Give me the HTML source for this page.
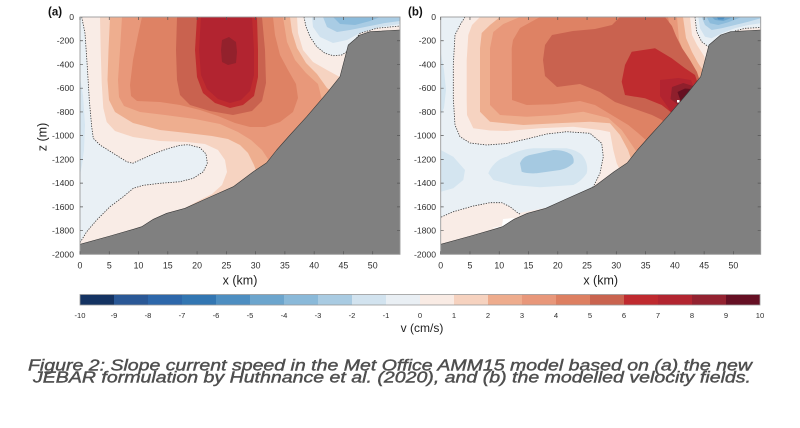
<!DOCTYPE html>
<html><head><meta charset="utf-8">
<style>
html,body{margin:0;padding:0;background:#fff;}
svg{display:block;}
text{font-family:"Liberation Sans",Arial,sans-serif;}
</style></head>
<body>
<svg width="800" height="428" viewBox="0 0 800 428" xmlns="http://www.w3.org/2000/svg">
<defs>
<clipPath id="ca"><rect x="80" y="17" width="320" height="237.3"/></clipPath>
<clipPath id="cb"><rect x="440.7" y="17" width="320" height="237.3"/></clipPath>
</defs>
<rect width="800" height="428" fill="#fff"/>

<!-- ============ PANEL A ============ -->
<g clip-path="url(#ca)" stroke-linejoin="round">
<rect x="80" y="17" width="320" height="237.3" fill="#f9ece6"/>
<path fill="#f6d3c1" d="M100,17 L100.7,50 L101.7,83 L103.3,108 L106.7,122 L115,131 L133,137 L160,141 L187,142 L205,144 L218,150 L225,160 L227,172 L222,185 L212,194 L198,201 L187,207 L390,240 L340,77 L338,76 L327,70 L313,62 L303,50 L298,33 L297,17 Z"/>
<path fill="#eeae8f" d="M110,17 L108.5,50 L107.5,80 L109,100 L115,112 L133,123 L160,130 L187,133 L212,136 L228,139 L240,145 L248,153 L254,165 L258,176 L390,240 L331,91 L327,88 L317,74 L306,63 L297,48 L292,32 L290,17 Z"/>
<path fill="#e8987a" d="M122,17 L120,50 L118,80 L119,97 L124,106 L140,112 L165,115 L195,119 L220,124 L238,132 L251,140 L262,150 L270,162 L390,240 L322,100 L318,84 L306,73 L295,60 L287,42 L283,17 Z"/>
<path fill="#de8264" d="M142,17 L138,35 L133,60 L130,85 L131,96 L137,101 L160,102 L180,105 L200,110 L218,116 L235,123 L250,127 L265,127 L280,122 L293,112 L298,98 L296,84 L288,70 L280,55 L275,35 L273,17 Z"/>
<path fill="#c9624f" d="M177,17 L176,50 L177,80 L180,95 L190,105 L210,111 L233,115 L252,111 L262,101 L266,83 L265,50 L262,17 Z"/>
<path fill="#bf2c2f" d="M197,17 L195,50 L197,77 L203,93 L215,103 L230,108 L243,105 L254,96 L258,77 L258,50 L257,17 Z"/>
<path fill="#b22430" d="M201,17 L199,50 L201,75 L207,89 L218,99 L230,103 L241,100 L250,91 L254,75 L254,50 L252,17 Z"/>
<path fill="#93212c" d="M222,40 L229,37 L236,42 L237,52 L236,63 L228,65 L222,62 L221,50 Z"/>

<path fill="#e9f0f5" d="M80,17 L81.7,17 L85,33.3 L87.3,66.7 L89.3,100 L91.7,126.7 L93.3,138.3 L100,145 L113.3,153.3 L126.7,161.7 L132.7,163.3 L140,160 L153.3,154 L166.7,149 L180,145.3 L188.3,144.7 L200,147.7 L206,154 L207.3,163.3 L203.3,171.7 L193.3,178.3 L180,181.7 L160,183.3 L143.3,185.3 L133.3,188.3 L123.3,196.7 L110,206.7 L96.7,220 L86.7,231.7 L80,242.7 Z"/>
<path fill="#d6e6f1" d="M80,78 L83,95 L85,125 L84,150 L82,165 L80,175 Z"/>
<path fill="#e9f0f5" d="M304,17 L306,26.7 L310,36.7 L316.7,46.7 L325,53.3 L333.3,55.7 L341.7,55 L346.7,51.7 L360,33.3 L376.7,28.3 L400,26 L400,17 Z"/>
<path fill="#d0e2ef" d="M312,17 L313,27 L320,37 L333,43 L347,40 L360,33 L380,27 L400,24 L400,17 Z"/>
<path fill="#a9cce4" d="M323,17 L327,27 L337,32 L350,30 L365,27 L385,23 L400,21 L400,17 Z"/>
<path fill="#8bbbdb" d="M333,17 L340,24 L355,25 L370,21 L380,17 Z"/>

<g fill="none" stroke="#333" stroke-width="0.8" stroke-dasharray="1.3,1.3">
<path d="M81.7,17 L85,33.3 L87.3,66.7 L89.3,100 L91.7,126.7 L93.3,138.3 L100,145 L113.3,153.3 L126.7,161.7 L132.7,163.3 L140,160 L153.3,154 L166.7,149 L180,145.3 L188.3,144.7 L200,147.7 L206,154 L207.3,163.3 L203.3,171.7 L193.3,178.3 L180,181.7 L160,183.3 L143.3,185.3 L133.3,188.3 L123.3,196.7 L110,206.7 L96.7,220 L86.7,231.7 L80,242.7"/>
<path d="M304,17 L306,26.7 L310,36.7 L316.7,46.7 L325,53.3 L333.3,55.7 L341.7,55 L346.7,51.7 L360,33.3 L376.7,28.3 L400,26"/>
</g>
<path fill="#808080" stroke="#3a3a3a" stroke-width="0.6" d="M80,244.3 L110,236 L133.3,229.3 L141.7,226.7 L153.3,219.3 L166.7,213.3 L185,208.3 L203.3,200 L233.3,186.7 L253.3,171.7 L266.7,162.7 L276.7,150 L290,135 L306.7,116.7 L326.7,93.3 L340,76.7 L348.3,45 L360,35 L370,31.7 L400,30 L401,30 L401,256 L79,256 Z"/>
</g>

<!-- ============ PANEL B ============ -->
<g clip-path="url(#cb)" stroke-linejoin="round">
<rect x="440.7" y="17" width="320" height="237.3" fill="#f9ece6"/>
<path fill="#f6d3c1" d="M480,17 L690,17 L692,35 L697,45 L704,56 L750,240 L620,170 L616.7,163.3 L613.3,150 L610,132 L600,130 L573.3,126.7 L540,128.3 L506.7,131 L490,130.5 L473.3,128.3 L467,115 L466.7,100 L466.7,60 L468.3,35 L472,25 Z"/>
<path fill="#eeae8f" d="M500,17 L683,17 L686,38 L692,52 L698,63 L704,72 L750,240 L632,162 L628,150 L620,135 L610,123.3 L590,121.7 L556.7,123.3 L523.3,125 L490,121.7 L480,111.7 L480,48.3 L481.7,33 L490,25 Z"/>
<path fill="#e8987a" d="M520,17 L677,17 L679,40 L686,58 L694,70 L700,85 L750,240 L640,157 L632,145 L621.7,130 L608.3,118 L583.3,111.7 L556.7,115 L526.7,116.7 L500,115 L490,105 L490,48.3 L493.3,32 L503.3,24 Z"/>
<path fill="#de8264" d="M540,17 L668,17 L672,37 L680,58 L690,76 L696,82 L750,240 L648,142 L638.3,133.3 L628.3,125 L611.7,115 L595,105 L580,101 L553.3,104.3 L526.7,105 L512,100 L511.7,48.3 L513,40 L520,28 Z"/>
<path fill="#c9624f" d="M545,76 L543,60 L545,45 L552,35 L573,31 L595,29 L612,25 L620,17 L665,17 L672,26 L676,36 L682,48 L690,60 L697,72 L750,240 L662,120 L652,115 L632,108 L615,102 L600,92 L580,84 L557,87 Z"/>
<path fill="#bf2c2f" d="M621.7,81.7 L625,65 L631.7,51.7 L655,48.3 L671.7,58.3 L685,68.3 L695,75 L750,240 L672,113 L661.7,105 L645,98.3 L625,95 Z"/>
<path fill="#b22430" d="M660,80 L678.3,78 L691,80 L750,240 L668.3,108 L660,96 Z"/>
<path fill="#8f1f2c" d="M672,87 L683.3,83 L693,86 L750,240 L678.3,105 L670.5,99 Z"/>
<path fill="#651021" d="M677.5,92 L685,88.5 L691,89 L750,240 L681,102 Z"/>
<rect x="677" y="100" width="2.5" height="2.5" fill="#fff"/>

<path fill="#e9f0f5" d="M440.7,17 L465,17 L460,25 L455,35 L453.3,65 L453.3,98.3 L455,125 L460,136.7 L470,143 L486.7,145 L506.7,143.5 L526.7,139 L546.7,134 L566.7,131.7 L590,133.3 L601.7,143.3 L603.3,156.7 L600,173.3 L593.3,186.7 L586.7,191 L560,205 L518.3,213.3 L510,206.7 L501.7,202.7 L490,202.7 L473.3,206 L453.3,211.7 L440.7,217.3 Z"/>
<path fill="#d4e5f0" d="M488.3,173.3 C492,164 500,158 506.7,156.7 C515,152 524,149 533.3,148.3 L566.7,148.3 C575,150 581,153 583.3,156.7 C587,162 588,168 586.7,173.3 C583,179 578,183 573.3,185 L540,187.3 L513.3,185 L493.3,180 Z"/>
<path fill="#a5c9e1" d="M520,163.3 C522,158 526,156 530,155 L553.3,150 C562,150 568,152 571.7,155 C574,158 574,161 573.3,163.3 C569,167 565,169 560,170 L536.7,173.3 C530,173.5 525,173 521.7,171.7 Z"/>
<path fill="#d4e5f0" d="M440.7,150 L453.3,156.7 L465,170 L463.3,180 L453.3,188.3 L440.7,191.7 Z"/>
<path fill="#d4e5f0" d="M440.7,52 L444,70 L446,90 L444,108 L440.7,115 Z"/>
<path fill="#e9f0f5" d="M695,17 L696.7,31.7 L701.7,41.7 L708.3,46.7 L716,40 L735,31 L745,28.3 L760.7,27.5 L760.7,17 Z"/>
<path fill="#d0e2ef" d="M698.3,17 L700,28.3 L705,36.7 L711.7,38.3 L721.7,33.3 L735,28.3 L748.3,25 L760.7,23.3 L760.7,17 Z"/>
<path fill="#a9cce4" d="M701.7,17 L705,25 L711.7,30 L721.7,28.3 L735,25 L748.3,21.7 L760.7,18.3 L760.7,17 Z"/>
<path fill="#8bbbdb" d="M706.7,17 L710,23.3 L718.3,25 L728.3,22.3 L738.3,18.3 L741.7,17 Z"/>
<path fill="#6ea7cf" d="M711.7,17 L715,20 L723.3,21 L731.7,17.7 L733,17 Z"/>
<path fill="#4d8fc3" d="M716.7,17 L725,17 L723.3,19.5 L718.3,19.5 Z"/>

<g fill="none" stroke="#333" stroke-width="0.8" stroke-dasharray="1.3,1.3">
<path d="M465,17 L460,25 L455,35 L453.3,65 L453.3,98.3 L455,125 L460,136.7 L470,143 L486.7,145 L506.7,143.5 L526.7,139 L546.7,134 L566.7,131.7 L590,133.3 L601.7,143.3 L603.3,156.7 L600,173.3 L593.3,186.7 L586.7,191"/>
<path d="M520,214 L518.3,213.3 L510,206.7 L501.7,202.7 L490,202.7 L473.3,206 L453.3,211.7 L440.7,217.3"/>
<path d="M695,17 L696.7,31.7 L701.7,41.7 L708.3,46.7"/>
<path d="M735,31 L745,28.3 L760.7,27.5"/>
</g>
<path fill="#fff" d="M492,228 L502,226 L503,219 L514,218 L517,221 L510,226 L500,229 Z"/>
<g transform="translate(360.7,0)">
<path fill="#808080" stroke="#3a3a3a" stroke-width="0.6" d="M80,244.3 L110,236 L133.3,229.3 L141.7,226.7 L153.3,219.3 L166.7,213.3 L185,208.3 L203.3,200 L233.3,186.7 L253.3,171.7 L266.7,162.7 L276.7,150 L290,135 L306.7,116.7 L326.7,93.3 L340,76.7 L348.3,45 L360,35 L370,31.7 L400,30 L401,30 L401,256 L79,256 Z"/>
</g>
</g>

<rect x="80" y="17" width="320" height="237.3" fill="none" stroke="#9a9a9a" stroke-width="0.9"/>
<rect x="440.7" y="17" width="320" height="237.3" fill="none" stroke="#9a9a9a" stroke-width="0.9"/>

<g stroke="#555" stroke-width="0.7">
<path d="M80,17v3M109.27,17v3M138.54,17v3M167.81,17v3M197.08,17v3M226.35,17v3M255.62,17v3M284.89,17v3M314.16,17v3M343.43,17v3M372.7,17v3
M80,254.3v-3M109.27,254.3v-3M138.54,254.3v-3M167.81,254.3v-3M197.08,254.3v-3M226.35,254.3v-3M255.62,254.3v-3M284.89,254.3v-3M314.16,254.3v-3M343.43,254.3v-3M372.7,254.3v-3
M80,40.73h3M80,64.46h3M80,88.19h3M80,111.92h3M80,135.65h3M80,159.38h3M80,183.11h3M80,206.84h3M80,230.57h3
M400,40.73h-3M400,64.46h-3M400,88.19h-3M400,111.92h-3M400,135.65h-3M400,159.38h-3M400,183.11h-3M400,206.84h-3M400,230.57h-3"/>
<path transform="translate(360.7,0)" d="M80,17v3M109.27,17v3M138.54,17v3M167.81,17v3M197.08,17v3M226.35,17v3M255.62,17v3M284.89,17v3M314.16,17v3M343.43,17v3M372.7,17v3
M80,254.3v-3M109.27,254.3v-3M138.54,254.3v-3M167.81,254.3v-3M197.08,254.3v-3M226.35,254.3v-3M255.62,254.3v-3M284.89,254.3v-3M314.16,254.3v-3M343.43,254.3v-3M372.7,254.3v-3
M80,40.73h3M80,64.46h3M80,88.19h3M80,111.92h3M80,135.65h3M80,159.38h3M80,183.11h3M80,206.84h3M80,230.57h3
M400,40.73h-3M400,64.46h-3M400,88.19h-3M400,111.92h-3M400,135.65h-3M400,159.38h-3M400,183.11h-3M400,206.84h-3M400,230.57h-3"/>
</g>

<g font-size="8.6" fill="#2e2e2e" text-anchor="end">
<text x="74" y="20">0</text><text x="74" y="43.7">-200</text><text x="74" y="67.5">-400</text><text x="74" y="91.2">-600</text><text x="74" y="114.9">-800</text><text x="74" y="138.6">-1000</text><text x="74" y="162.4">-1200</text><text x="74" y="186.1">-1400</text><text x="74" y="209.8">-1600</text><text x="74" y="233.6">-1800</text><text x="74" y="257.3">-2000</text>
<text x="436" y="20">0</text><text x="436" y="43.7">-200</text><text x="436" y="67.5">-400</text><text x="436" y="91.2">-600</text><text x="436" y="114.9">-800</text><text x="436" y="138.6">-1000</text><text x="436" y="162.4">-1200</text><text x="436" y="186.1">-1400</text><text x="436" y="209.8">-1600</text><text x="436" y="233.6">-1800</text><text x="436" y="257.3">-2000</text>
</g>
<g font-size="8.8" fill="#2e2e2e" text-anchor="middle">
<text x="80" y="268.3">0</text><text x="109.27" y="268.3">5</text><text x="138.54" y="268.3">10</text><text x="167.81" y="268.3">15</text><text x="197.08" y="268.3">20</text><text x="226.35" y="268.3">25</text><text x="255.62" y="268.3">30</text><text x="284.89" y="268.3">35</text><text x="314.16" y="268.3">40</text><text x="343.43" y="268.3">45</text><text x="372.7" y="268.3">50</text>
<text x="440.7" y="268.3">0</text><text x="469.97" y="268.3">5</text><text x="499.24" y="268.3">10</text><text x="528.51" y="268.3">15</text><text x="557.78" y="268.3">20</text><text x="587.05" y="268.3">25</text><text x="616.32" y="268.3">30</text><text x="645.59" y="268.3">35</text><text x="674.86" y="268.3">40</text><text x="704.13" y="268.3">45</text><text x="733.4" y="268.3">50</text>
</g>
<g font-size="12.5" fill="#222" text-anchor="middle">
<text x="240" y="284.5">x (km)</text>
<text x="600.7" y="284.5">x (km)</text>
<text transform="translate(46.5,137) rotate(-90)">z (m)</text>
</g>
<text x="48" y="15.5" font-size="11.5" font-weight="bold" fill="#111">(a)</text>
<text x="408" y="15.5" font-size="11.5" font-weight="bold" fill="#111">(b)</text>

<g>
<rect x="80" y="294.5" width="34" height="10.5" fill="#143362"/>
<rect x="114" y="294.5" width="34" height="10.5" fill="#2a5896"/>
<rect x="148" y="294.5" width="34" height="10.5" fill="#2d67aa"/>
<rect x="182" y="294.5" width="34" height="10.5" fill="#3276b2"/>
<rect x="216" y="294.5" width="34" height="10.5" fill="#4d8ec1"/>
<rect x="250" y="294.5" width="34" height="10.5" fill="#6ca5cd"/>
<rect x="284" y="294.5" width="34" height="10.5" fill="#8ab9d9"/>
<rect x="318" y="294.5" width="34" height="10.5" fill="#a9cbe2"/>
<rect x="352" y="294.5" width="34" height="10.5" fill="#d2e3ef"/>
<rect x="386" y="294.5" width="34" height="10.5" fill="#e9eff4"/>
<rect x="420" y="294.5" width="34" height="10.5" fill="#f9ebe4"/>
<rect x="454" y="294.5" width="34" height="10.5" fill="#f6d2bf"/>
<rect x="488" y="294.5" width="34" height="10.5" fill="#eeac8d"/>
<rect x="522" y="294.5" width="34" height="10.5" fill="#e8977a"/>
<rect x="556" y="294.5" width="34" height="10.5" fill="#dd7f61"/>
<rect x="590" y="294.5" width="34" height="10.5" fill="#c9634f"/>
<rect x="624" y="294.5" width="34" height="10.5" fill="#bf2a2f"/>
<rect x="658" y="294.5" width="34" height="10.5" fill="#b22530"/>
<rect x="692" y="294.5" width="34" height="10.5" fill="#932230"/>
<rect x="726" y="294.5" width="34" height="10.5" fill="#650f23"/>
<rect x="80" y="294.5" width="680" height="10.5" fill="none" stroke="#999" stroke-width="0.8"/>
</g>
<g font-size="7.6" fill="#2e2e2e" text-anchor="middle">
<text x="80" y="317.8">-10</text><text x="114" y="317.8">-9</text><text x="148" y="317.8">-8</text><text x="182" y="317.8">-7</text><text x="216" y="317.8">-6</text><text x="250" y="317.8">-5</text><text x="284" y="317.8">-4</text><text x="318" y="317.8">-3</text><text x="352" y="317.8">-2</text><text x="386" y="317.8">-1</text><text x="420" y="317.8">0</text><text x="454" y="317.8">1</text><text x="488" y="317.8">2</text><text x="522" y="317.8">3</text><text x="556" y="317.8">4</text><text x="590" y="317.8">5</text><text x="624" y="317.8">6</text><text x="658" y="317.8">7</text><text x="692" y="317.8">8</text><text x="726" y="317.8">9</text><text x="760" y="317.8">10</text>
</g>
<text x="422" y="332" font-size="12" fill="#222" text-anchor="middle">v (cm/s)</text>

<g font-size="15.5" font-style="italic" fill="#4e4e4e" stroke="#4e4e4e" stroke-width="0.4">
<text x="28" y="370.6" textLength="724" lengthAdjust="spacingAndGlyphs">Figure 2: Slope current speed in the Met Office AMM15 model based on (a) the new</text>
<text x="33" y="382.4" textLength="718" lengthAdjust="spacingAndGlyphs">JEBAR formulation by Huthnance et al. (2020), and (b) the modelled velocity fields.</text>
</g>
</svg>
</body></html>
